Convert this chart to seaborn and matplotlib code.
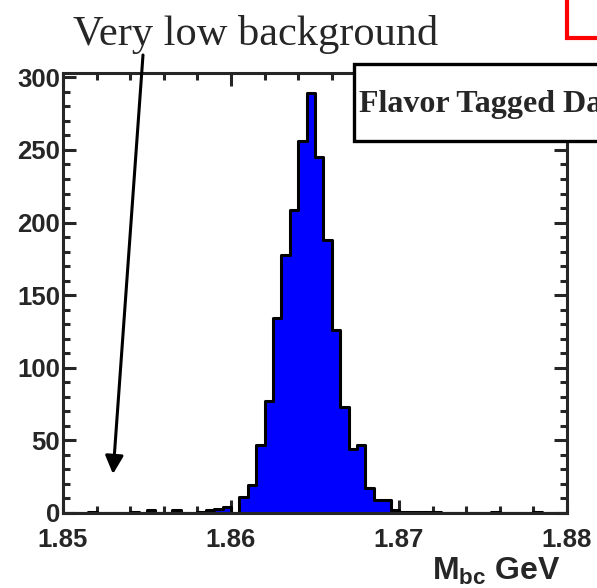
import numpy as np
import pandas as pd
import matplotlib
matplotlib.use("Agg")
import matplotlib.pyplot as plt
from matplotlib.patches import Rectangle, FancyArrowPatch, ArrowStyle
from matplotlib.lines import Line2D
import seaborn as sns

# Mbc histogram: 60 bins of 0.5 MeV between 1.85 and 1.88 GeV
mbc_low = 1.85
mbc_high = 1.88
n_bins = 60
counts = [
    0, 0, 0, 1, 0, 0, 0, 0, 1, 0,
    2, 0, 0, 2, 0, 0, 1, 2, 3, 4,
    0, 11, 19, 47, 77, 134, 178, 209, 256, 289,
    245, 188, 126, 73, 44, 47, 17, 9, 9, 2,
    1, 1, 1, 1, 1, 0, 0, 0, 0, 0,
    0, 1, 0, 0, 0, 0, 1, 0, 0, 0,
]
x_ticks = [1.85, 1.86, 1.87, 1.88]
x_tick_labels = ["1.85", "1.86", "1.87", "1.88"]
y_ticks = [0, 50, 100, 150, 200, 250, 300]
y_tick_labels = ["0", "50", "100", "150", "200", "250", "300"]

edges = np.linspace(mbc_low, mbc_high, n_bins + 1)
hist_df = pd.DataFrame({
    "mbc": 0.5 * (edges[:-1] + edges[1:]),
    "n": np.asarray(counts, dtype=float),
})

sns.set_style("ticks")
plt.rcParams["font.family"] = ["Liberation Sans", "DejaVu Sans"]
plt.rcParams["mathtext.fontset"] = "custom"
plt.rcParams["mathtext.rm"] = "Liberation Sans:bold"
plt.rcParams["mathtext.bf"] = "Liberation Sans:bold"
plt.rcParams["mathtext.it"] = "Liberation Sans:bold"

W, H = 597, 588
fig = plt.figure(figsize=(W / 100, H / 100), dpi=100)
fig.patch.set_facecolor("white")


def fx(px):
    return px / W


def fy(py):
    return 1 - py / H


ax = fig.add_axes([fx(63), fy(513), (567 - 63) / W, (513 - 73) / H])

sns.histplot(
    data=hist_df, x="mbc", weights="n", bins=list(edges), element="step",
    fill=True, color="#0000ff", alpha=1.0, edgecolor="black", linewidth=2.2,
    ax=ax,
)

ax.set_xlim(mbc_low, mbc_high)
ax.set_ylim(0, 303)
ax.set_xlabel("")
ax.set_ylabel("")
ax.set_xticks(x_ticks, x_tick_labels)
ax.set_yticks(y_ticks, y_tick_labels)
ax.set_xticks(np.arange(mbc_low, mbc_high + 1e-9, 0.002), minor=True)
ax.set_yticks(np.arange(0, 301, 10), minor=True)

for s in ax.spines.values():
    s.set_linewidth(2.2)
    s.set_visible(True)
ax.tick_params(which="both", direction="in", top=True, right=True, width=2.2)
ax.tick_params(which="major", length=9.5)
ax.tick_params(which="minor", length=5)
ax.tick_params(axis="x", which="major", pad=10.5)
ax.tick_params(axis="y", which="major", pad=2)
for lab in ax.get_xticklabels() + ax.get_yticklabels():
    lab.set_fontsize(18.5)
    lab.set_fontweight("bold")

# axis title
fig.text(fx(561), fy(580), r"$\mathbf{M}_{\mathbf{bc}}$ GeV", ha="right",
         va="baseline", fontsize=23, fontweight="bold")

# annotation pointing at the sideband
fig.text(fx(73), fy(45), "Very low background", family="Liberation Serif",
         fontsize=30.5, va="baseline", ha="left")
arrow = FancyArrowPatch(
    (fx(143), fy(55)), (fx(113), fy(474)), transform=fig.transFigure,
    arrowstyle=ArrowStyle("-|>", head_length=11, head_width=5.5),
    mutation_scale=1, lw=2.2, color="black", shrinkA=0, shrinkB=0, zorder=6,
)
fig.add_artist(arrow)

# label box
box = Rectangle((fx(354), fy(141)), fx(700) - fx(354), fy(64) - fy(141),
                transform=fig.transFigure, facecolor="white",
                edgecolor="black", lw=2.4, zorder=5)
fig.add_artist(box)
fig.text(fx(359), fy(112), "Flavor Tagged Data", family="Liberation Serif",
         fontweight="bold", fontsize=23, va="baseline", ha="left", zorder=7)

# red corner marker
fig.add_artist(Line2D([fx(567), fx(567), fx(600)], [fy(-2), fy(38), fy(38)],
                      transform=fig.transFigure, color="red", lw=3,
                      solid_joinstyle="miter", zorder=6))

fig.savefig("out.png", dpi=100)
